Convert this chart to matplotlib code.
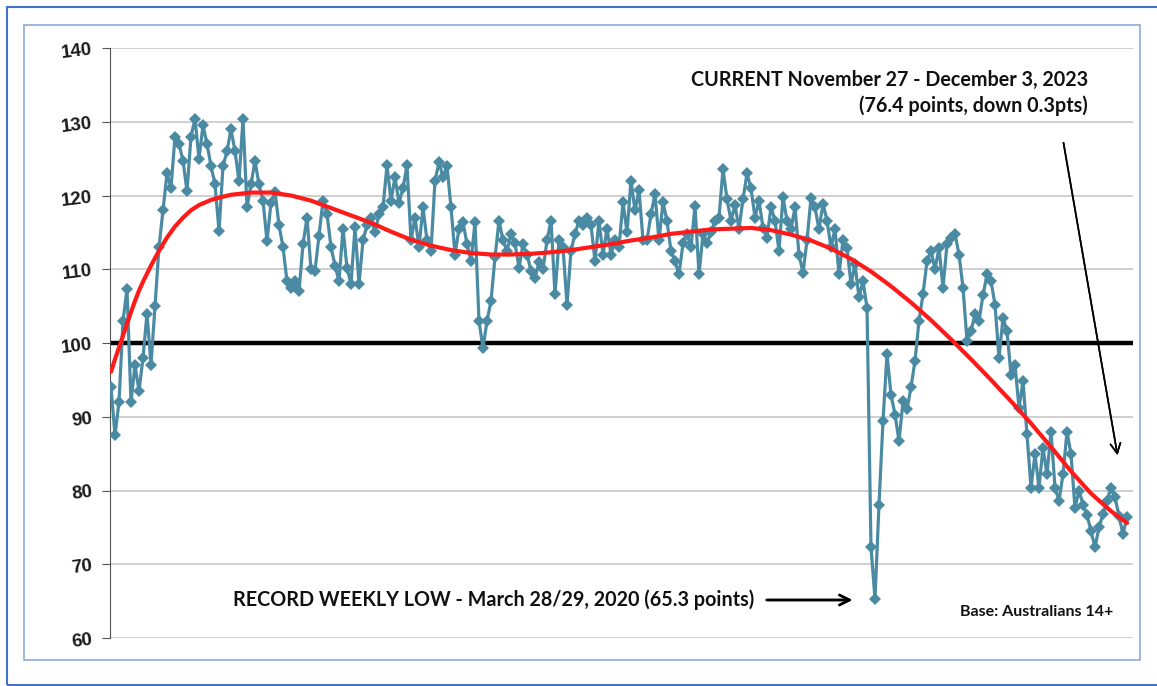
import numpy as np
import matplotlib.pyplot as plt
from matplotlib.patches import Rectangle

# weekly index (roughly early 2010 -> Dec 2023)
weekly_index = [
    94, 87.5, 92, 103, 107.3, 92, 97, 93.5, 98, 104, 97, 105, 113, 118, 123, 121,
    128, 127, 124.7, 120.6, 128, 130.4, 125, 129.5, 127, 124, 121.5, 115.2, 124, 126,
    129, 126, 122, 130.4, 118.4, 121.5, 124.7, 121.5, 119.3, 113.8, 119, 120.5, 116,
    113, 108.4, 107.5, 108.4, 107, 113.4, 117, 110, 109.8, 114.5, 119.3, 117.5, 113,
    110.5, 108.4,
    115.5, 110.2, 108, 115.7, 108, 113.9, 116, 117, 115, 117.5, 118.4, 124.1, 119.3,
    122.5, 119, 121, 124.1, 113.9, 117, 113, 118.4, 113.9, 112.5, 122, 124.5, 122.5,
    124, 118.4, 112, 115.5, 116.4, 113.4, 111.1, 116.4, 103, 99.3, 103, 105.7, 111.6,
    116.6, 113.9, 112.5, 114.8, 113.5, 110.2, 113.4, 112, 109.8, 108.8, 111, 110,
    113.9, 116.6, 106.6, 113.9, 113, 105.2, 112.5, 114.8, 116.6, 116, 117,
    116, 111.1, 116.6, 112, 115.5, 112, 114, 113, 119.1, 115, 122, 118, 120.7, 114,
    113.9, 117.5, 120.2, 113.9, 119.1, 116.5, 112.5, 111.1, 109.3, 113.5, 114.8, 113,
    118.6, 109.3, 114.8, 113.5, 115, 116.6, 117, 123.6, 119.5, 116.6, 118.7, 115.5,
    119.5, 123, 121, 117, 119.3, 115.6, 114.3, 118.4, 116.6, 112.5, 119.8, 116.6,
    115.4, 118.4, 112, 109.5, 113.9, 119.7, 118.4, 115.4, 118.9, 116.6, 113, 115.5,
    109.3,
    114, 112.9, 108, 110.7, 106.2, 108.4, 104.8, 72.3, 65.3, 78.1, 89.4, 98.5, 93,
    90.3, 86.7, 92.1, 91, 94, 97.6, 103, 106.6, 111.1, 112.5, 110, 112.9, 107.5,
    113.4, 114.3, 114.8, 112, 107.5, 100.3, 101.6, 103.9, 103, 106.5, 109.3, 108.4,
    105.2, 98, 103.4, 101.6, 95.7, 97, 91.2, 94.8, 87.6, 80.4, 84.9, 80.4, 85.8,
    82.2, 88, 80.4, 78.6, 82.2, 88, 84.9, 77.6, 80, 78.1, 76.7, 74.5, 72.3, 75,
    76.8, 78.6, 80.4, 79.1, 76.5, 74.1, 76.4,
]

# red trend line as drawn on the chart (week position, value)
trend_week = [0, 1, 2, 3, 4, 5, 6, 7, 8, 9, 10, 12, 14, 16, 18, 20, 22, 25, 27,
              30, 35, 40, 45, 50, 55, 60, 65, 70, 75, 80, 85, 90, 95, 100, 105,
              110, 115, 120, 125, 130, 135, 140, 145, 150, 155, 160, 165, 170,
              175, 180, 185, 190, 195, 200, 205, 210, 215, 220, 225, 230, 235,
              240, 245, 250, 254]
trend_value = [96.1, 97.8, 99.4, 101, 102.6, 104.2, 105.7, 107.1, 108.3, 109.4,
               110.5, 112.5, 114.3, 115.8, 117, 118, 118.7, 119.4, 119.7,
               120.1, 120.4, 120.4, 120, 119.3, 118.3, 117.3, 116.3, 115.1, 114,
               113.2, 112.6, 112.2, 112, 112, 112.1, 112.3, 112.6, 113, 113.4,
               113.9, 114.3, 114.8, 115.1, 115.4, 115.5, 115.6, 115.3, 114.7,
               113.9, 112.8, 111.4, 109.7, 107.7, 105.5, 103.1, 100.5, 97.8, 95.0,
               92.1, 89.1, 85.9, 82.6, 79.6, 77.2, 75.6]

y_ticks = [60, 70, 80, 90, 100, 110, 120, 130, 140]
baseline = 100

current_title = "CURRENT November 27 - December 3, 2023"
current_sub = "(76.4 points, down 0.3pts)"
record_note = "RECORD WEEKLY LOW - March 28/29, 2020 (65.3 points)"
base_note = "Base: Australians 14+"

W, H = 1157, 686
fig = plt.figure(figsize=(W / 100, H / 100), dpi=100)

def fx(px):
    return px / W

def fy(py):
    return 1 - py / H

# frames around the chart (scanned-slide look)
fig.patches.append(Rectangle((fx(7), fy(685)), fx(1200 - 7), (685 - 7) / H,
                             transform=fig.transFigure, fill=False,
                             edgecolor='#4472C4', lw=1.5))
fig.patches.append(Rectangle((fx(24), fy(660)), fx(1140 - 24), (660 - 25) / H,
                             transform=fig.transFigure, fill=False,
                             edgecolor='#8EA9DB', lw=1.2))

ax = fig.add_axes([fx(110), fy(638), fx(1133 - 110), (638 - 48) / H])

x = np.arange(len(weekly_index))

ax.axhline(baseline, color='black', lw=3.2, zorder=2)
ax.plot(x, weekly_index, color='#4A8BA3', lw=2.3, marker='D', ms=6,
        markeredgewidth=0, zorder=3)
ax.plot(trend_week, trend_value, color='#FF1A1A', lw=3, zorder=4,
        solid_joinstyle='round', solid_capstyle='round')

ax.set_xlim(-0.25, len(weekly_index) + 0.5)
ax.set_ylim(60, 140)
ax.set_yticks(y_ticks)
ax.set_xticks([])
ax.grid(axis='y', color='#CCCCCC', lw=1.3)
ax.set_axisbelow(True)
for side in ['top', 'right', 'bottom']:
    ax.spines[side].set_visible(False)
ax.spines['left'].set_color('#555555')
ax.tick_params(axis='y', length=6, color='#555555', pad=6)
for lbl in ax.get_yticklabels():
    lbl.set_fontfamily('Liberation Sans')
    lbl.set_fontweight('bold')
    lbl.set_fontsize(13.5)
    lbl.set_rotation(7)
    lbl.set_color('#1A1A1A')

txt = dict(family='Lato', weight='bold', color='#111111')
fig.text(fx(1088), fy(80), current_title, ha='right', va='center', fontsize=14.2, **txt)
fig.text(fx(1088), fy(106), current_sub, ha='right', va='center', fontsize=14.2, **txt)
fig.text(fx(233), fy(600), record_note, ha='left', va='center', fontsize=14.2, **txt)
fig.text(fx(1113), fy(612), base_note, ha='right', va='center', fontsize=11.5, **txt)

arrow = dict(arrowstyle='->', color='black', lw=1.2, mutation_scale=18)
fig.add_artist(plt.annotate('', xy=(fx(1118), fy(458)), xytext=(fx(1063), fy(140)),
                            xycoords='figure fraction', textcoords='figure fraction',
                            arrowprops=arrow))
fig.add_artist(plt.annotate('', xy=(fx(855), fy(600)), xytext=(fx(764), fy(600)),
                            xycoords='figure fraction', textcoords='figure fraction',
                            arrowprops=dict(arrowstyle='->', color='black', lw=1.8,
                                            mutation_scale=18)))

fig.savefig('out.png', dpi=100)
